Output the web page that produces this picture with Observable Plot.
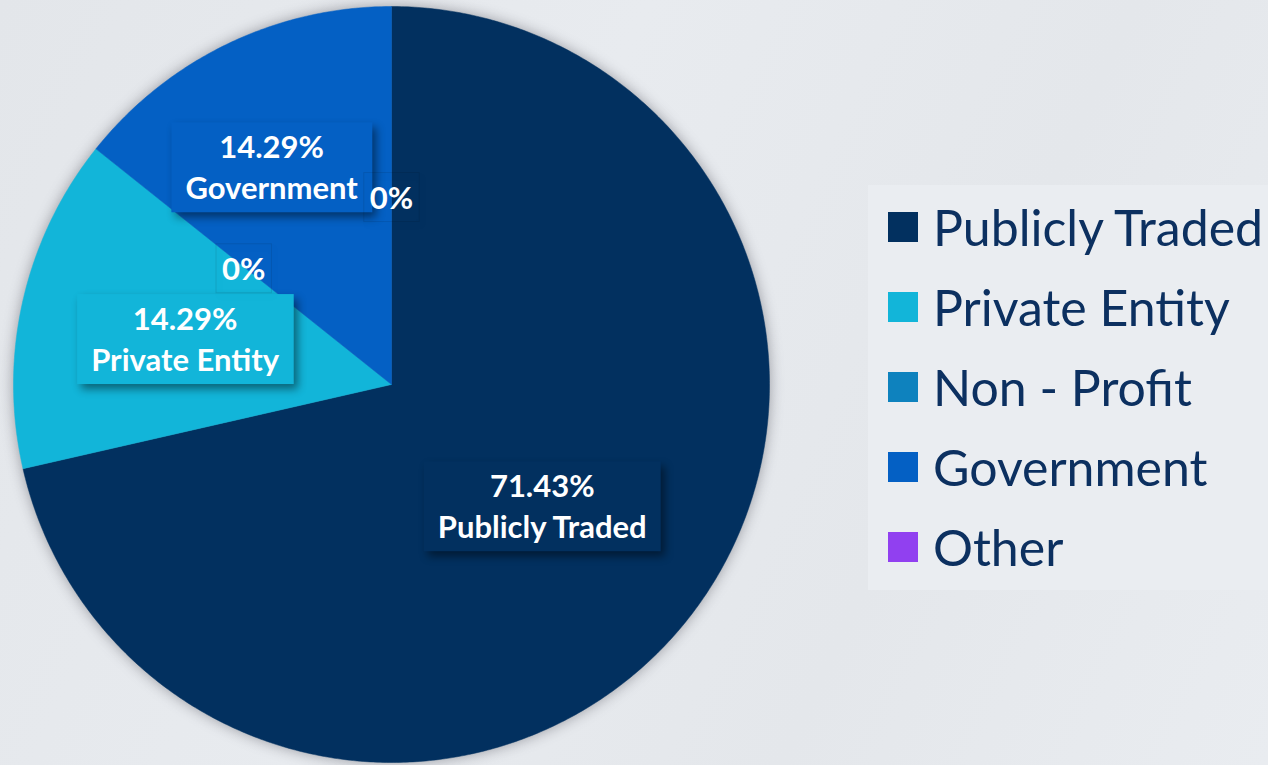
<!DOCTYPE html>
<html>
<head>
<meta charset="utf-8">
<script src="https://cdn.jsdelivr.net/npm/d3@7"></script>
<script src="https://cdn.jsdelivr.net/npm/@observablehq/plot@0.6"></script>
<style>
  html, body { margin: 0; padding: 0; }
  body {
    width: 1268px; height: 765px; overflow: hidden; position: relative;
    background: linear-gradient(115deg, #e3e6ea 0%, #e8ebef 40%, #e4e7eb 70%, #e9ecf0 100%);
    font-family: Lato, "Open Sans", sans-serif;
  }
  #chart { position: absolute; left: 0; top: 0; }
  #legend {
    position: absolute; left: 868px; top: 185px; width: 400px; height: 405px;
    background: #eaedf1; box-sizing: border-box; padding: 2px 0 0 20px; overflow: hidden;
  }
  #legend .lg-swatch { height: 80px !important; display: flex !important; align-items: center !important; padding: 0 !important; margin: 0 !important; }
  #legend .lg-swatch svg { margin-right: 15px !important; align-self: center !important; }
  #legend .lg-swatch-label { overflow: visible !important; }
</style>
</head>
<body>
<div id="chart"></div>
<div id="legend"></div>
<script>
// ---- data ----
const categories = ["Publicly Traded", "Private Entity", "Non - Profit", "Government", "Other"];
const shares = [71.43, 14.29, 0, 14.29, 0];
const colors = ["#02305f", "#12b5d9", "#0e82be", "#0460c4", "#9140f0"];

// label placement (radius as fraction of pie radius, small angular nudge in degrees) – layout only
const labelRadius = {"Publicly Traded": 0.51, "Private Entity": 0.56, "Non - Profit": 0.5, "Government": 0.66, "Other": 0.5};
const labelNudge = {"Publicly Traded": 0, "Private Entity": 0, "Non - Profit": 0, "Government": -3, "Other": 0};

const total = d3.sum(shares);
let cum = 0;
const slices = categories.map((c, i) => {
  const a0 = cum / total * 2 * Math.PI;
  cum += shares[i];
  const a1 = cum / total * 2 * Math.PI;
  return {category: c, value: shares[i], a0, a1};
});

// polygon vertices for each slice (geometry of the arc)
const vertices = [];
for (const s of slices) {
  if (s.value <= 0) continue;
  vertices.push({category: s.category, x: 0, y: 0});
  const n = Math.max(2, Math.ceil((s.a1 - s.a0) / (Math.PI / 360)));
  for (let k = 0; k <= n; k++) {
    const a = s.a0 + (s.a1 - s.a0) * k / n;
    vertices.push({category: s.category, x: Math.sin(a), y: Math.cos(a)});
  }
  vertices.push({category: s.category, x: 0, y: 0});
}

const labels = slices.map(s => {
  const am = (s.a0 + s.a1) / 2 + labelNudge[s.category] * Math.PI / 180;
  const r = labelRadius[s.category];
  return {
    category: s.category,
    x: r * Math.sin(am), y: r * Math.cos(am),
    text: s.value > 0 ? `${s.value.toFixed(2)}%\n${s.category}` : "0%",
    zero: s.value <= 0
  };
});

const colorScale = {domain: categories, range: colors};

const plot = Plot.plot({
  width: 860, height: 765,
  margin: 0,
  style: {background: "transparent", overflow: "visible"},
  x: {domain: [-1, 1], range: [13, 769], axis: null},
  y: {domain: [-1, 1], range: [762, 6], axis: null},
  color: colorScale,
  marks: [
    Plot.line(vertices, {x: "x", y: "y", z: "category", fill: "category", stroke: "category", strokeWidth: 0.5, curve: "linear",
      render: (index, scales, values, dims, ctx, next) => {
        const g = next(index, scales, values, dims, ctx);
        g.style.filter = "drop-shadow(0px 0px 7px rgba(60,60,70,0.45))";
        return g;
      }}),
    Plot.text(labels, {x: "x", y: "y", text: "text", fill: "white", fontWeight: "bold", fontSize: 31,
      lineHeight: 1.32, fontFamily: "Lato, 'Open Sans', sans-serif", className: "slice-labels"})
  ]
});
document.getElementById("chart").appendChild(plot);

// add label boxes behind each data label
const labelGroup = plot.querySelector("g.slice-labels") || plot.querySelector('g[aria-label="text"]');
if (labelGroup) {
  const texts = Array.from(labelGroup.querySelectorAll("text"));
  texts.forEach((t, i) => {
    const b = t.getBBox();
    const lab = labels[i];
    const padX = lab.zero ? 6 : 14, padTop = 5, padBot = 6;
    const rect = document.createElementNS("http://www.w3.org/2000/svg", "rect");
    rect.setAttribute("x", b.x - padX);
    rect.setAttribute("y", b.y - padTop);
    rect.setAttribute("width", b.width + 2 * padX);
    rect.setAttribute("height", b.height + padTop + padBot);
    const t0 = t.getAttribute("transform");
    if (t0) rect.setAttribute("transform", t0);
    if (lab.zero) {
      rect.setAttribute("fill", "none");
      rect.setAttribute("stroke", "rgba(0,0,0,0.10)");
      rect.setAttribute("stroke-width", "1");
      rect.style.filter = "drop-shadow(3px 4px 3px rgba(0,0,0,0.35))";
    } else {
      rect.setAttribute("fill", colors[categories.indexOf(lab.category)]);
      rect.style.filter = "drop-shadow(4px 5px 4px rgba(0,0,0,0.45))";
    }
    labelGroup.insertBefore(rect, t);
  });
}

// legend
const legend = Plot.legend({
  color: colorScale,
  legend: "swatches",
  columns: 1,
  swatchSize: 30,
  className: "lg",
  style: {fontSize: "50px", fontFamily: "Lato, 'Open Sans', sans-serif", color: "#0c3060", background: "transparent"}
});
document.getElementById("legend").appendChild(legend);
</script>
</body>
</html>
